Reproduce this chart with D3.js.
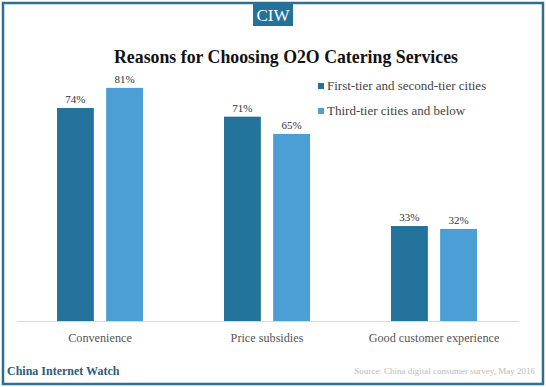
<!DOCTYPE html>
<html><head><meta charset="utf-8">
<script src="https://cdn.jsdelivr.net/npm/d3@7"></script>
<style>body{margin:0;background:#fff}svg{display:block}</style>
</head><body>
<svg id="c" width="546" height="387"></svg>
<script>
const categories = ["Convenience", "Price subsidies", "Good customer experience"];
const seriesNames = ["First-tier and second-tier cities", "Third-tier cities and below"];
const firstTier = [74, 71, 33];
const thirdTier = [81, 65, 32];
const title = "Reasons for Choosing O2O Catering Services";
const source = "Source: China digital  consumer survey, May 2016";
const brand = "China Internet Watch";
const badge = "CIW";

const colors = ["#22729b", "#4b9fd5"];
const serif = "'Liberation Serif', 'DejaVu Serif', serif";
const svg = d3.select("#c");

// frame
svg.append("rect").attr("x",3).attr("y",3).attr("width",540).attr("height",381)
  .attr("fill","#fff").attr("stroke","#2d6f8f").attr("stroke-width",2.5);

// badge
svg.append("rect").attr("x",253).attr("y",4).attr("width",40).attr("height",22).attr("fill","#22729b");
svg.append("text").attr("x",273).attr("y",21).attr("text-anchor","middle")
  .attr("font-family",serif).attr("font-size",17).attr("fill","#fff").text(badge);

// title
svg.append("text").attr("x",286).attr("y",63).attr("text-anchor","middle")
  .attr("font-family",serif).attr("font-weight","bold").attr("font-size",17.8).attr("fill","#111").text(title);

const baseY = 321;
const y = d3.scaleLinear().domain([0, 100]).range([baseY, baseY - 287.8]);
const x0 = d3.scaleBand().domain(categories).range([16.5, 517.5]);
const x1 = d3.scaleBand().domain([0,1]).range([-43, 43]).paddingInner(0.25);

const data = categories.map((c,i)=>({cat:c, vals:[firstTier[i], thirdTier[i]]}));
const g = svg.append("g");
data.forEach(d=>{
  const cx = x0(d.cat) + x0.bandwidth()/2;
  d.vals.forEach((v,j)=>{
    g.append("rect").attr("x", cx + x1(j)).attr("y", y(v))
      .attr("width", x1.bandwidth()).attr("height", baseY - y(v)).attr("fill", colors[j]);
    g.append("text").attr("x", cx + x1(j) + x1.bandwidth()/2).attr("y", y(v) - 5)
      .attr("text-anchor","middle").attr("font-family",serif).attr("font-size",11)
      .attr("fill","#333").text(v + "%");
  });
});

// axis
const axis = d3.axisBottom(x0).tickSize(0).tickPadding(12);
const ax = svg.append("g").attr("transform",`translate(0,${baseY})`).call(axis);
ax.select(".domain").attr("stroke","#d9d9d9").attr("d","M17,0.5H519");
ax.selectAll("text").attr("font-family",serif).attr("font-size",12.2).attr("fill","#555");

// legend
seriesNames.forEach((n,i)=>{
  const ly = 86 + i*25;
  svg.append("rect").attr("x",318).attr("y",ly-3).attr("width",6).attr("height",6).attr("fill",colors[i]);
  svg.append("text").attr("x",327).attr("y",ly+4).attr("font-family",serif).attr("font-size",13)
    .attr("fill","#444").text(n);
});

// footer
svg.append("text").attr("x",7).attr("y",375).attr("font-family",serif).attr("font-weight","bold")
  .attr("font-size",12).attr("fill","#2c5d78").text(brand);
svg.append("text").attr("x",535).attr("y",374).attr("text-anchor","end").attr("font-family",serif)
  .attr("font-size",9).attr("fill","#bbb").text(source);
</script>
</body></html>
